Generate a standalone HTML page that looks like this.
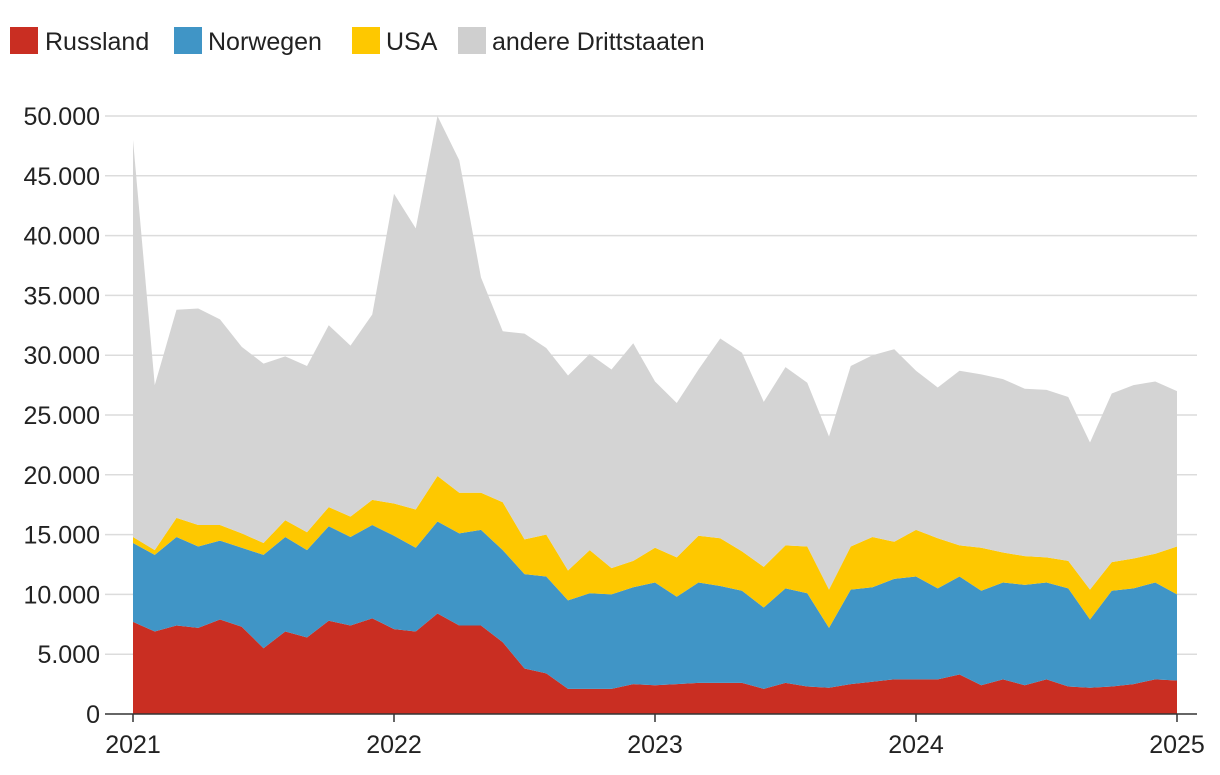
<!DOCTYPE html>
<html><head><meta charset="utf-8"><style>
body{margin:0;background:#fff;font-family:"Liberation Sans",sans-serif;}
svg text{font-family:"Liberation Sans",sans-serif;fill:#222;}
</style></head><body>
<svg id="chart" width="1220" height="770" xmlns="http://www.w3.org/2000/svg">
<g id="legend">
<g><rect x="10" y="27" width="28" height="27" fill="#c92e22"/><text x="45" y="50" font-size="25">Russland</text></g>
<g><rect x="174" y="27" width="28" height="27" fill="#4095c6"/><text x="208" y="50" font-size="25">Norwegen</text></g>
<g><rect x="352" y="27" width="28" height="27" fill="#fec800"/><text x="386" y="50" font-size="25">USA</text></g>
<g><rect x="458" y="27" width="28" height="27" fill="#cfcfcf"/><text x="492" y="50" font-size="25">andere Drittstaaten</text></g>
</g>
<g id="grid"></g><g id="areas"></g><g id="axes"></g>
</svg>
<script>
const russia=[7.7,6.9,7.4,7.2,7.9,7.3,5.5,6.9,6.4,7.8,7.4,8.0,7.1,6.9,8.4,7.4,7.4,6.0,3.8,3.4,2.1,2.1,2.1,2.5,2.4,2.5,2.6,2.6,2.6,2.1,2.6,2.3,2.2,2.5,2.7,2.9,2.9,2.9,3.3,2.4,2.9,2.4,2.9,2.3,2.2,2.3,2.5,2.9,2.8];
const norway=[6.6,6.4,7.4,6.8,6.6,6.6,7.8,7.9,7.3,7.9,7.4,7.8,7.8,7.0,7.7,7.7,8.0,7.7,7.9,8.1,7.4,8.0,7.9,8.1,8.6,7.3,8.4,8.1,7.7,6.8,7.9,7.8,5.0,7.9,7.9,8.4,8.6,7.6,8.2,7.9,8.1,8.4,8.1,8.2,5.7,8.0,8.0,8.1,7.2];
const usa=[0.5,0.4,1.6,1.8,1.3,1.2,1.0,1.4,1.5,1.6,1.7,2.1,2.7,3.2,3.8,3.4,3.1,4.0,2.9,3.5,2.5,3.6,2.2,2.2,2.9,3.3,3.9,4.0,3.3,3.4,3.6,3.9,3.2,3.6,4.2,3.1,3.9,4.2,2.6,3.6,2.5,2.4,2.1,2.3,2.5,2.4,2.5,2.4,4.0];
const other=[33.2,13.8,17.4,18.1,17.2,15.6,15.0,13.7,13.9,15.2,14.3,15.5,25.9,23.5,30.1,27.8,18.0,14.3,17.2,15.6,16.3,16.4,16.6,18.2,13.9,12.9,13.9,16.7,16.6,13.8,14.9,13.7,12.8,15.1,15.2,16.1,13.3,12.6,14.6,14.5,14.5,14.0,14.0,13.7,12.3,14.1,14.5,14.4,13.0];
const yTicks=[0,5000,10000,15000,20000,25000,30000,35000,40000,45000,50000];
const yTickLabels=["0","5.000","10.000","15.000","20.000","25.000","30.000","35.000","40.000","45.000","50.000"];
const years=["2021","2022","2023","2024","2025"];
const NS="http://www.w3.org/2000/svg";
const x0=133,x1=1177,yb=714,yt=116,ymax=50000;
const xs=i=>x0+(x1-x0)*i/(russia.length-1);
const ys=v=>yb-(yb-yt)*v/ymax;
function mk(tag,attrs,parent){const e=document.createElementNS(NS,tag);for(const k in attrs)e.setAttribute(k,attrs[k]);parent.appendChild(e);return e;}
const grid=document.getElementById('grid'),areas=document.getElementById('areas'),axes=document.getElementById('axes');
yTicks.forEach((t,i)=>{
  if(t>0){const l=mk('line',{x1:105,x2:1197,y1:ys(t),y2:ys(t),stroke:'#dcdcdc','stroke-width':1.5},grid);
  
  }
  const tx=mk('text',{x:100,y:ys(t)+9,'text-anchor':'end','font-size':25},axes);
  tx.textContent=yTickLabels[i];
  
  
});
const series=[[russia,'#c92e22','area-russland'],[norway,'#4095c6','area-norwegen'],[usa,'#fec800','area-usa'],[other,'#d4d4d4','area-andere-drittstaaten']];
let base=russia.map(()=>0);
series.forEach(([vals,col,name])=>{
  const top=base.map((b,i)=>b+vals[i]*1000);
  let d='M'+top.map((v,i)=>xs(i)+','+ys(v)).join('L');
  for(let i=base.length-1;i>=0;i--)d+='L'+xs(i)+','+ys(base[i]);
  const p=mk('path',{d:d+'Z',fill:col},areas);
  
  
  base=top;
});
const ax=mk('line',{x1:105,x2:1197,y1:yb,y2:yb,stroke:'#333','stroke-width':1.5},axes);


years.forEach((y,k)=>{
  const x=xs(k*12);
  const tk=mk('line',{x1:x,x2:x,y1:yb,y2:yb+8,stroke:'#333','stroke-width':1.5},axes);
  
  
  const tx=mk('text',{x:x,y:753,'text-anchor':'middle','font-size':25},axes);
  tx.textContent=y;
  
  
});
</script>
</body></html>
